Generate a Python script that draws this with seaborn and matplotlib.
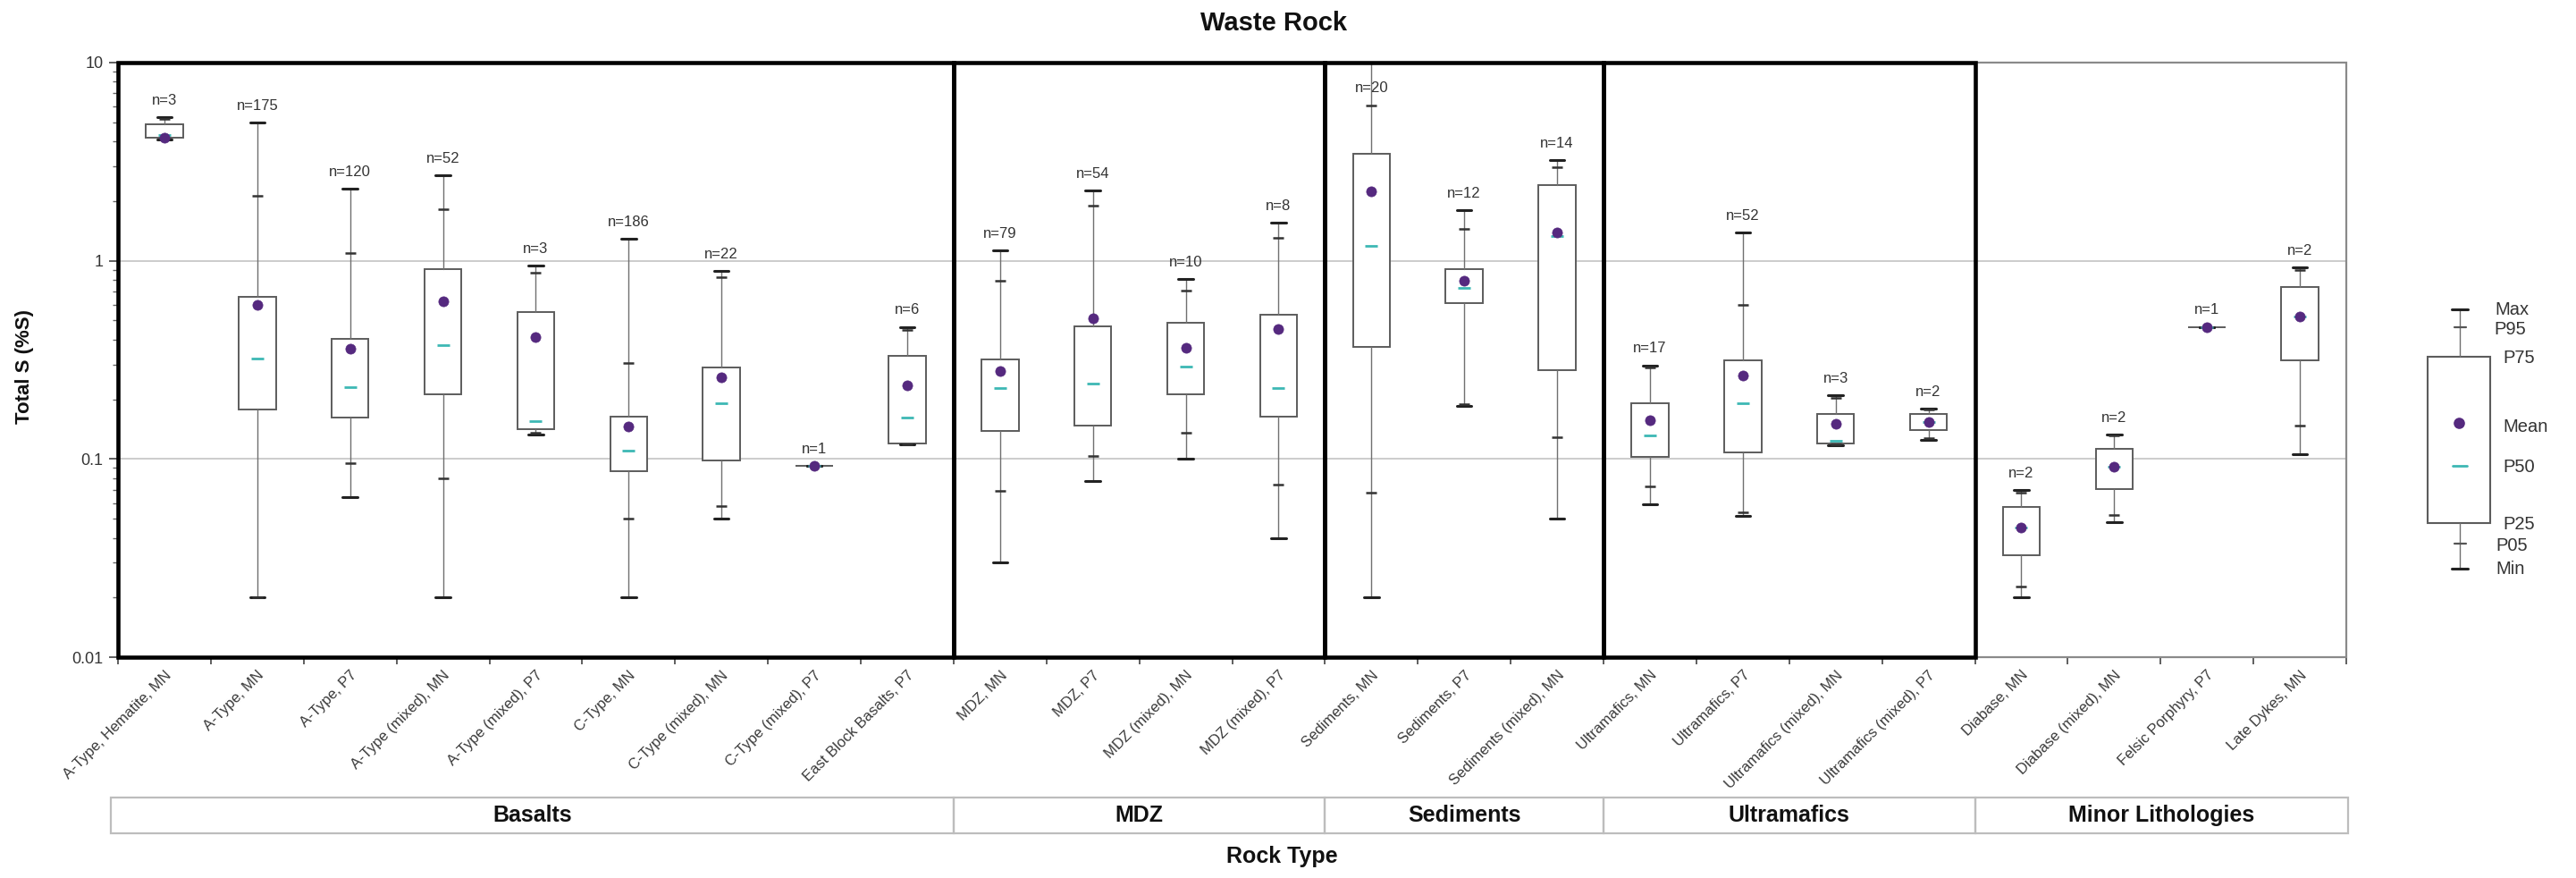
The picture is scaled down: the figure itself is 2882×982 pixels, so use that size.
import numpy as np
import pandas as pd
import matplotlib
matplotlib.use("Agg")
import matplotlib.pyplot as plt
import matplotlib.transforms as mtransforms
from matplotlib.patches import Rectangle
from matplotlib.ticker import FixedLocator, FixedFormatter, LogLocator, NullFormatter
import seaborn as sns

# ---------------- data ----------------
categories = [
    "A-Type, Hematite, MN", "A-Type, MN", "A-Type, P7", "A-Type (mixed), MN",
    "A-Type (mixed), P7", "C-Type, MN", "C-Type (mixed), MN", "C-Type (mixed), P7",
    "East Block Basalts, P7",
    "MDZ, MN", "MDZ, P7", "MDZ (mixed), MN", "MDZ (mixed), P7",
    "Sediments, MN", "Sediments, P7", "Sediments (mixed), MN",
    "Ultramafics, MN", "Ultramafics, P7", "Ultramafics (mixed), MN", "Ultramafics (mixed), P7",
    "Diabase, MN", "Diabase (mixed), MN", "Felsic Porphyry, P7", "Late Dykes, MN",
]
groups = ["Basalts", "MDZ", "Sediments", "Ultramafics", "Minor Lithologies"]
group_sizes = [9, 4, 3, 4, 4]
n_counts = [3, 175, 120, 52, 3, 186, 22, 1, 6, 79, 54, 10, 8, 20, 12, 14, 17, 52, 3, 2, 2, 2, 1, 2]

s_min = [4.1, 0.020, 0.064, 0.020, 0.133, 0.020, 0.050, 0.092, 0.119,
         0.030, 0.077, 0.1007, 0.040,
         0.020, 0.185, 0.050,
         0.0589, 0.0517, 0.117, 0.125,
         0.020, 0.0478, 0.464, 0.106]
s_p05 = [4.15, 0.020, 0.095, 0.080, 0.136, 0.050, 0.058, 0.092, 0.119,
         0.0687, 0.104, 0.136, 0.0743,
         0.0677, 0.190, 0.129,
         0.073, 0.054, 0.118, 0.127,
         0.0227, 0.0522, 0.464, 0.148]
s_p25 = [4.2, 0.178, 0.161, 0.212, 0.142, 0.0865, 0.098, 0.092, 0.120,
         0.139, 0.148, 0.212, 0.164,
         0.366, 0.609, 0.282,
         0.102, 0.108, 0.120, 0.140,
         0.0327, 0.0706, 0.464, 0.313]
s_p50 = [4.3, 0.32, 0.231, 0.375, 0.155, 0.110, 0.191, 0.092, 0.162,
         0.229, 0.240, 0.292, 0.229,
         1.19, 0.726, 1.33,
         0.131, 0.191, 0.123, 0.153,
         0.0452, 0.0917, 0.464, 0.525]
s_mean = [4.2, 0.60, 0.36, 0.625, 0.41, 0.146, 0.258, 0.092, 0.234,
          0.277, 0.514, 0.362, 0.454,
          2.25, 0.79, 1.39,
          0.157, 0.263, 0.150, 0.153,
          0.0452, 0.0917, 0.464, 0.525]
s_p75 = [4.9, 0.655, 0.404, 0.91, 0.55, 0.164, 0.289, 0.092, 0.33,
         0.318, 0.467, 0.488, 0.536,
         3.47, 0.907, 2.40,
         0.191, 0.313, 0.168, 0.168,
         0.0575, 0.113, 0.464, 0.736]
s_p95 = [5.2, 2.13, 1.09, 1.82, 0.87, 0.305, 0.826, 0.092, 0.448,
         0.79, 1.90, 0.71, 1.30,
         6.05, 1.45, 2.97,
         0.290, 0.598, 0.203, 0.177,
         0.0677, 0.131, 0.464, 0.90]
s_max = [5.3, 5.0, 2.31, 2.70, 0.948, 1.29, 0.89, 0.092, 0.464,
         1.13, 2.27, 0.81, 1.55,
         12.0, 1.80, 3.22,
         0.297, 1.39, 0.210, 0.180,
         0.0699, 0.133, 0.464, 0.93]

ytick_values = [0.01, 0.1, 1, 10]
ytick_labels = ["0.01", "0.1", "1", "10"]
legend_labels = ["Max", "P95", "P75", "Mean", "P50", "P25", "P05", "Min"]

title = "Waste Rock"
xlabel = "Rock Type"
ylabel = "Total S (%S)"

# ---------------- style ----------------
sns.set_theme(style="white")
plt.rcParams["font.family"] = ["Liberation Sans", "DejaVu Sans"]

MEAN_C = "#55297f"
P50_C = "#3db8b4"

W, H = 2882, 982
fig = plt.figure(figsize=(W / 100, H / 100), dpi=100)
ax = fig.add_axes([132 / W, 1 - 735 / H, (2625 - 132) / W, (735 - 70) / H])

pos = np.arange(len(categories))
df = pd.DataFrame({
    "pos": pos, "category": categories, "n": n_counts,
    "min": s_min, "p05": s_p05, "p25": s_p25, "p50": s_p50,
    "mean": s_mean, "p75": s_p75, "p95": s_p95, "max": s_max,
})

ax.set_yscale("log")
ax.set_ylim(0.01, 10)
ax.set_xlim(-0.5, len(categories) - 0.5)

# grid
for v in [0.1, 1]:
    ax.axhline(v, color="#c4c4c4", lw=1.2, zorder=0)

# boxes
stats = [dict(whislo=r["min"], q1=r["p25"], med=r["p50"], q3=r["p75"], whishi=r["max"], fliers=[])
         for _, r in df.iterrows()]
ax.bxp(stats, positions=df["pos"], widths=0.4, showfliers=False, patch_artist=True,
       boxprops=dict(facecolor="white", edgecolor="#5c5c5c", linewidth=1.4),
       whiskerprops=dict(color="#707070", linewidth=1.0),
       capprops=dict(color="#222222", linewidth=2.2),
       medianprops=dict(visible=False), capwidths=0.16, manage_ticks=False, zorder=3)

# percentile ticks, medians, means via seaborn
sns.scatterplot(data=df, x="pos", y="p95", marker="_", s=80, color="#333333",
                linewidth=1.8, ax=ax, zorder=4, legend=False)
sns.scatterplot(data=df, x="pos", y="p05", marker="_", s=80, color="#333333",
                linewidth=1.8, ax=ax, zorder=4, legend=False)
sns.scatterplot(data=df, x="pos", y="p50", marker="_", s=100, color=P50_C,
                linewidth=2.0, ax=ax, zorder=4, legend=False)
sns.scatterplot(data=df, x="pos", y="mean", marker="o", s=65, color=MEAN_C,
                edgecolor=MEAN_C, linewidth=0.5, ax=ax, zorder=5, legend=False)

# n labels
for _, r in df.iterrows():
    ypos = min(r["max"], 6.1)
    ax.annotate(f"n={r['n']}", (r["pos"], ypos), xytext=(0, 8), textcoords="offset points",
                ha="center", va="bottom", fontsize=12, color="#333333", zorder=6)

# group frames
edges = np.concatenate([[0], np.cumsum(group_sizes)]) - 0.5
for gi in range(len(groups)):
    x0, x1 = edges[gi], edges[gi + 1]
    if gi < len(groups) - 1:
        ax.add_patch(Rectangle((x0, 0.01), x1 - x0, 10 - 0.01, fill=False, ec="black",
                               lw=3.3, clip_on=False, zorder=7))
    else:
        ax.add_patch(Rectangle((x0, 0.01), x1 - x0, 10 - 0.01, fill=False, ec="#8a8a8a",
                               lw=1.6, clip_on=False, zorder=6))
for sp in ax.spines.values():
    sp.set_visible(False)

# ticks
ax.yaxis.set_major_locator(FixedLocator(ytick_values))
ax.yaxis.set_major_formatter(FixedFormatter(ytick_labels))
ax.yaxis.set_minor_locator(LogLocator(base=10, subs=np.arange(2, 10)))
ax.yaxis.set_minor_formatter(NullFormatter())
ax.tick_params(axis="y", which="major", left=True, length=7, width=1.2, color="#444444",
               labelsize=13, labelcolor="#333333", pad=5)
ax.tick_params(axis="y", which="minor", left=True, length=4, width=1.0, color="#666666")

ax.set_xticks(pos)
ax.set_xticklabels(categories, rotation=45, ha="right", rotation_mode="anchor",
                   fontsize=12, color="#3a3a3a")
ax.set_xticks(list(np.arange(-0.5, len(categories) - 0.5 + 0.01, 1.0)), minor=True)
ax.tick_params(axis="x", which="major", bottom=False, length=0, pad=9)
ax.tick_params(axis="x", which="minor", bottom=True, length=6, width=1.2, color="#444444")
ax.set_xlabel("")
ax.set_ylabel("")

# group label boxes below
blend = mtransforms.blended_transform_factory(ax.transData, fig.transFigure)
gy0, gy1 = 1 - 932 / H, 1 - 892 / H
gedges = edges.copy()
gedges[0] = -0.58
gedges[-1] = len(categories) - 0.5 + 0.02
for gi, g in enumerate(groups):
    x0, x1 = gedges[gi], gedges[gi + 1]
    fig.patches.append(Rectangle((x0, gy0), x1 - x0, gy1 - gy0, fill=False, ec="#bdbdbd",
                                 lw=1.6, transform=blend, figure=fig))
    fig.text((x0 + x1) / 2, (gy0 + gy1) / 2, g, transform=blend, ha="center", va="center",
             fontsize=18, fontweight="bold", color="#111111")

# titles
fig.text(1425 / W, 1 - 26 / H, title, ha="center", va="center", fontsize=21, fontweight="bold", color="#111111")
fig.text(1434 / W, 1 - 958 / H, xlabel, ha="center", va="center", fontsize=18, fontweight="bold", color="#111111")
fig.text(28 / W, 1 - 410 / H, ylabel, ha="center", va="center", rotation=90, fontsize=16,
         fontweight="bold", color="#111111")

# legend key (pixel overlay)
ov = fig.add_axes([0, 0, 1, 1])
ov.set_xlim(0, W)
ov.set_ylim(H, 0)
ov.axis("off")
cx = 2752
ov.add_patch(Rectangle((2716, 399), 70, 186, fill=False, ec="#5c5c5c", lw=1.5))
ov.plot([cx, cx], [346, 399], color="#707070", lw=1.0)
ov.plot([cx, cx], [585, 636], color="#707070", lw=1.0)
for yy, hw, lw, c in [(346, 9, 2.2, "#222222"), (636, 9, 2.2, "#222222"),
                      (366, 6.5, 1.6, "#555555"), (608, 6.5, 1.6, "#555555")]:
    ov.plot([cx - hw, cx + hw], [yy, yy], color=c, lw=lw)
ov.plot([cx - 8, cx + 8], [521, 521], color=P50_C, lw=2.0)
ov.scatter([cx - 1], [473], s=65, color=MEAN_C)
leg_pos = [(2791, 346), (2790, 368), (2800, 401), (2800, 477), (2800, 523), (2800, 586), (2792, 611), (2792, 636)]
for lab, (lx, ly) in zip(legend_labels, leg_pos):
    ov.text(lx, ly, lab, ha="left", va="center", fontsize=14.5, color="#333333")

fig.savefig("out.png", dpi=100, facecolor="white")
